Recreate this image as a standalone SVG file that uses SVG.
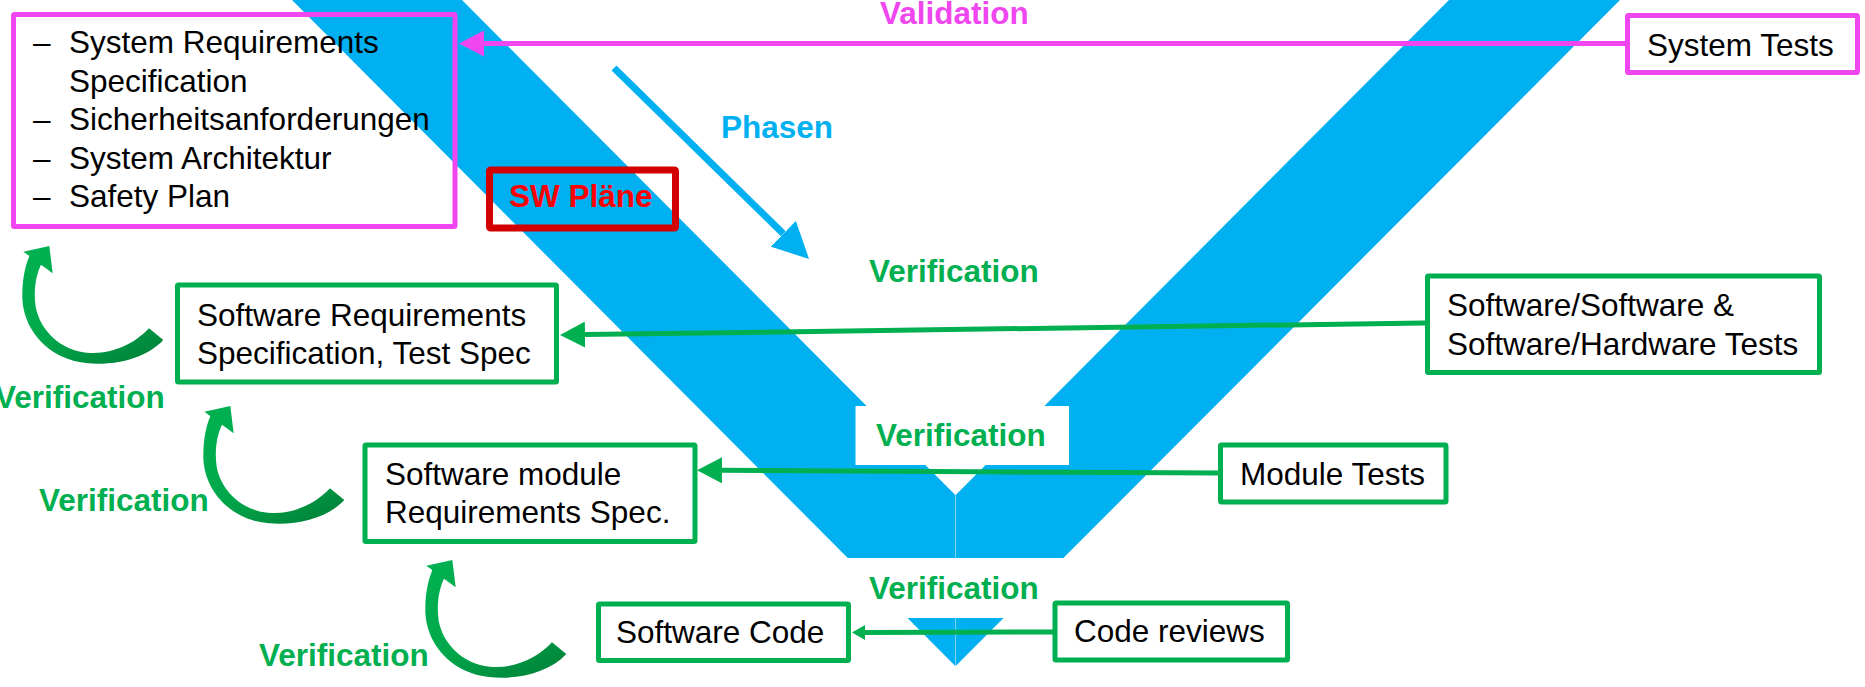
<svg xmlns="http://www.w3.org/2000/svg" width="1865" height="687" viewBox="0 0 1865 687">
  <style>
    .txt { font-family: "Liberation Sans", Arial, sans-serif; font-size: 31.5px; fill: #000; }
    .bold { font-weight: bold; }
    .green { fill: #00B050; }
    .magenta { fill: #F046F0; }
    .blue { fill: #00B0F0; }
    .red { fill: #FF0000; }
    .box-g { fill: none; stroke: #00B050; stroke-width: 5; }
    .box-m { fill: none; stroke: #F046F0; stroke-width: 5; }
    .box-r { fill: none; stroke: #D20000; stroke-width: 7; }
    .vband { fill: #00B0F0; }
    .con-g { stroke: #00B050; stroke-width: 5; fill: none; }
    .con-m { stroke: #F046F0; stroke-width: 5; fill: none; }
    .con-b { stroke: #00B0F0; stroke-width: 7; fill: none; }
  </style>
  <defs>
    <marker id="headGreen" viewBox="0 0 25 26" refX="0" refY="13" markerWidth="25" markerHeight="26" markerUnits="userSpaceOnUse" orient="auto">
      <path d="M0,0 L25,13 L0,26 Z" fill="#00B050"/>
    </marker>
    <marker id="headGreenSmall" viewBox="0 0 13 15" refX="0" refY="7.5" markerWidth="13" markerHeight="15" markerUnits="userSpaceOnUse" orient="auto">
      <path d="M0,0 L13,7.5 L0,15 Z" fill="#00B050"/>
    </marker>
    <marker id="headMagenta" viewBox="0 0 25 26" refX="0" refY="13" markerWidth="25" markerHeight="26" markerUnits="userSpaceOnUse" orient="auto">
      <path d="M0,0 L25,13 L0,26 Z" fill="#F046F0"/>
    </marker>
    <marker id="headBlue" viewBox="0 0 36 36" refX="0" refY="18" markerWidth="36" markerHeight="36" markerUnits="userSpaceOnUse" orient="auto">
      <path d="M0,0 L36,18 L0,36 Z" fill="#00B0F0"/>
    </marker>
    <linearGradient id="curlFill" x1="0.2" y1="0" x2="0.8" y2="1">
      <stop offset="0" stop-color="#00B050"/>
      <stop offset="0.55" stop-color="#00A84B"/>
      <stop offset="1" stop-color="#00843A"/>
    </linearGradient>
    <path id="curl" d="M490,300 C430,365 310,385 220,362 C130,338 70,260 67,175 C66,120 75,80 88,48 L70,35 L148,18 L158,100 L123,74 C108,105 100,150 107,200 C120,270 180,330 260,338 C330,345 400,315 447,265 Z" fill="url(#curlFill)"/>
  </defs>

  <!-- V-model band (two halves) -->
  <g id="v-shape">
    <polygon class="vband" points="292,0 462,0 955.3,495 955.3,666"/>
    <polygon class="vband" points="1449,0 1620,0 955.7,666 955.7,495"/>
    <!-- white label backgrounds cutting the band -->
    <rect x="855.5" y="406" width="213.5" height="59" fill="#fff"/>
    <rect x="800" y="558" width="320" height="60" fill="#fff"/>
  </g>

  <!-- verification loops on the left -->
  <g id="loops">
    <use href="#curl" transform="translate(0,240) scale(0.3333)"/>
    <use href="#curl" transform="translate(181,400) scale(0.3333)"/>
    <use href="#curl" transform="translate(403,554) scale(0.3333)"/>
  </g>

  <g id="connectors">
    <line class="con-m" x1="1625" y1="43.5" x2="484" y2="43.5" marker-end="url(#headMagenta)"/>
    <line class="con-g" x1="1425" y1="323" x2="585" y2="334.6" marker-end="url(#headGreen)"/>
    <line class="con-g" x1="1218" y1="473" x2="722" y2="470.3" marker-end="url(#headGreen)"/>
    <line class="con-g" x1="1053" y1="632" x2="865" y2="632.5" stroke-width="4" marker-end="url(#headGreenSmall)"/>
    <line class="con-b" x1="614" y1="68" x2="783.3" y2="233.8" marker-end="url(#headBlue)"/>
  </g>

  <g id="node-system-requirements">
    <rect class="box-m" x="13.5" y="14.5" width="441.5" height="212" rx="1"/>
    <text class="txt" x="33" y="53" font-size="26">–</text>
    <text class="txt" x="69" y="53">System Requirements</text>
    <text class="txt" x="69" y="91.5">Specification</text>
    <text class="txt" x="33" y="130" font-size="26">–</text>
    <text class="txt" x="69" y="130">Sicherheitsanforderungen</text>
    <text class="txt" x="33" y="168.5" font-size="26">–</text>
    <text class="txt" x="69" y="168.5">System Architektur</text>
    <text class="txt" x="33" y="207" font-size="26">–</text>
    <text class="txt" x="69" y="207">Safety Plan</text>
  </g>

  <g id="node-sw-plaene">
    <rect class="box-r" x="489.5" y="170" width="186" height="58" rx="1"/>
    <text class="txt bold red" x="509" y="207">SW Pläne</text>
  </g>

  <g id="node-system-tests">
    <rect class="box-m" x="1627.5" y="15.5" width="230" height="57" rx="1"/>
    <text class="txt" x="1647" y="56">System Tests</text>
  </g>

  <g id="node-sw-requirements">
    <rect class="box-g" x="177.5" y="285" width="379" height="97" rx="1"/>
    <text class="txt" x="197" y="326">Software Requirements</text>
    <text class="txt" x="197" y="364">Specification, Test Spec</text>
  </g>

  <g id="node-sw-sw-tests">
    <rect class="box-g" x="1427.5" y="276" width="392" height="96.5" rx="1"/>
    <text class="txt" x="1447" y="316">Software/Software &amp;</text>
    <text class="txt" x="1447" y="355">Software/Hardware Tests</text>
  </g>

  <g id="node-module-spec">
    <rect class="box-g" x="365" y="445" width="330" height="96.5" rx="1"/>
    <text class="txt" x="385" y="485">Software module</text>
    <text class="txt" x="385" y="523">Requirements Spec.</text>
  </g>

  <g id="node-module-tests">
    <rect class="box-g" x="1220.5" y="445" width="225.5" height="57" rx="1"/>
    <text class="txt" x="1240" y="485">Module Tests</text>
  </g>

  <g id="node-software-code">
    <rect class="box-g" x="598.5" y="604" width="250" height="56.5" rx="1"/>
    <text class="txt" x="616" y="643">Software Code</text>
  </g>

  <g id="node-code-reviews">
    <rect class="box-g" x="1055" y="603" width="232.5" height="57" rx="1"/>
    <text class="txt" x="1074" y="642">Code reviews</text>
  </g>

  <g id="labels">
    <text class="txt bold magenta" x="880" y="24">Validation</text>
    <text class="txt bold blue" x="721" y="138">Phasen</text>
    <text class="txt bold green" x="869" y="282">Verification</text>
    <text class="txt bold green" x="876" y="446">Verification</text>
    <text class="txt bold green" x="869" y="599">Verification</text>
    <text class="txt bold green" x="-5" y="408">Verification</text>
    <text class="txt bold green" x="39" y="511">Verification</text>
    <text class="txt bold green" x="259" y="666">Verification</text>
  </g>
</svg>
